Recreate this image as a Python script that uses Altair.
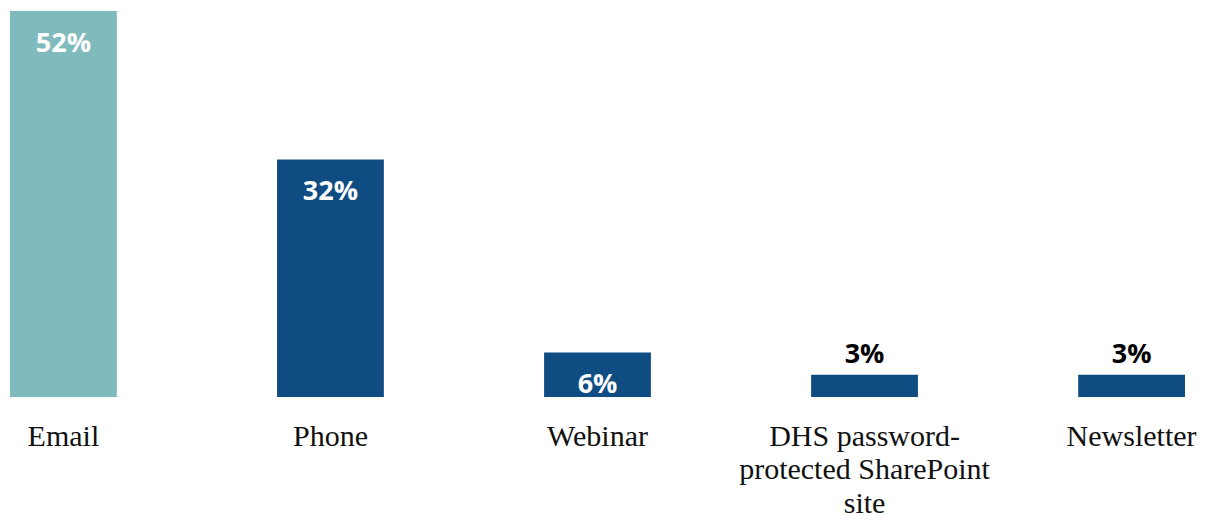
import altair as alt
import pandas as pd

categories = ["Email", "Phone", "Webinar", "DHS password-\nprotected SharePoint\nsite", "Newsletter"]
values = [52, 32, 6, 3, 3]
labels = ["52%", "32%", "6%", "3%", "3%"]

TEAL = "#7FBBBD"
NAVY = "#0E4C82"

df = pd.DataFrame({"category": categories, "value": values, "label": labels})

x = alt.X(
    "category:N",
    sort=None,
    title=None,
    scale=alt.Scale(paddingInner=0.6, paddingOuter=0),
    axis=alt.Axis(
        labelAngle=0,
        domain=False,
        ticks=False,
        tickSize=0,
        labelPadding=24,
        labelFont="Liberation Serif",
        labelFontSize=30,
        labelColor="#111111",
        labelLineHeight=33.5,
        labelLimit=0,
        labelExpr="split(datum.label, '\\n')",
        labelBaseline="top",
    ),
)
y = alt.Y("value:Q", title=None, scale=alt.Scale(domain=[0, 52], nice=False), axis=None)

base = alt.Chart(df)

bars = base.mark_bar().encode(
    x=x,
    y=y,
    color=alt.condition(alt.datum.category == "Email", alt.value(TEAL), alt.value(NAVY)),
)

inside = base.transform_filter(alt.datum.value >= 5).mark_text(
    font="Open Sans", fontWeight="bold", fontSize=27, color="white",
    baseline="alphabetic", dy=41,
).encode(x=x, y=y, text="label:N")

outside = base.transform_filter(alt.datum.value < 5).mark_text(
    font="Open Sans", fontWeight="bold", fontSize=27, color="black",
    baseline="alphabetic", dy=-12,
).encode(x=x, y=y, text="label:N")

chart = (
    alt.layer(bars, inside, outside)
    .properties(width=1175, height=386, padding={"left": 2, "top": 3, "right": 0, "bottom": 0})
    .configure_view(strokeWidth=0)
)

chart.save("out.html", embed_options={"renderer": "svg", "actions": False})
